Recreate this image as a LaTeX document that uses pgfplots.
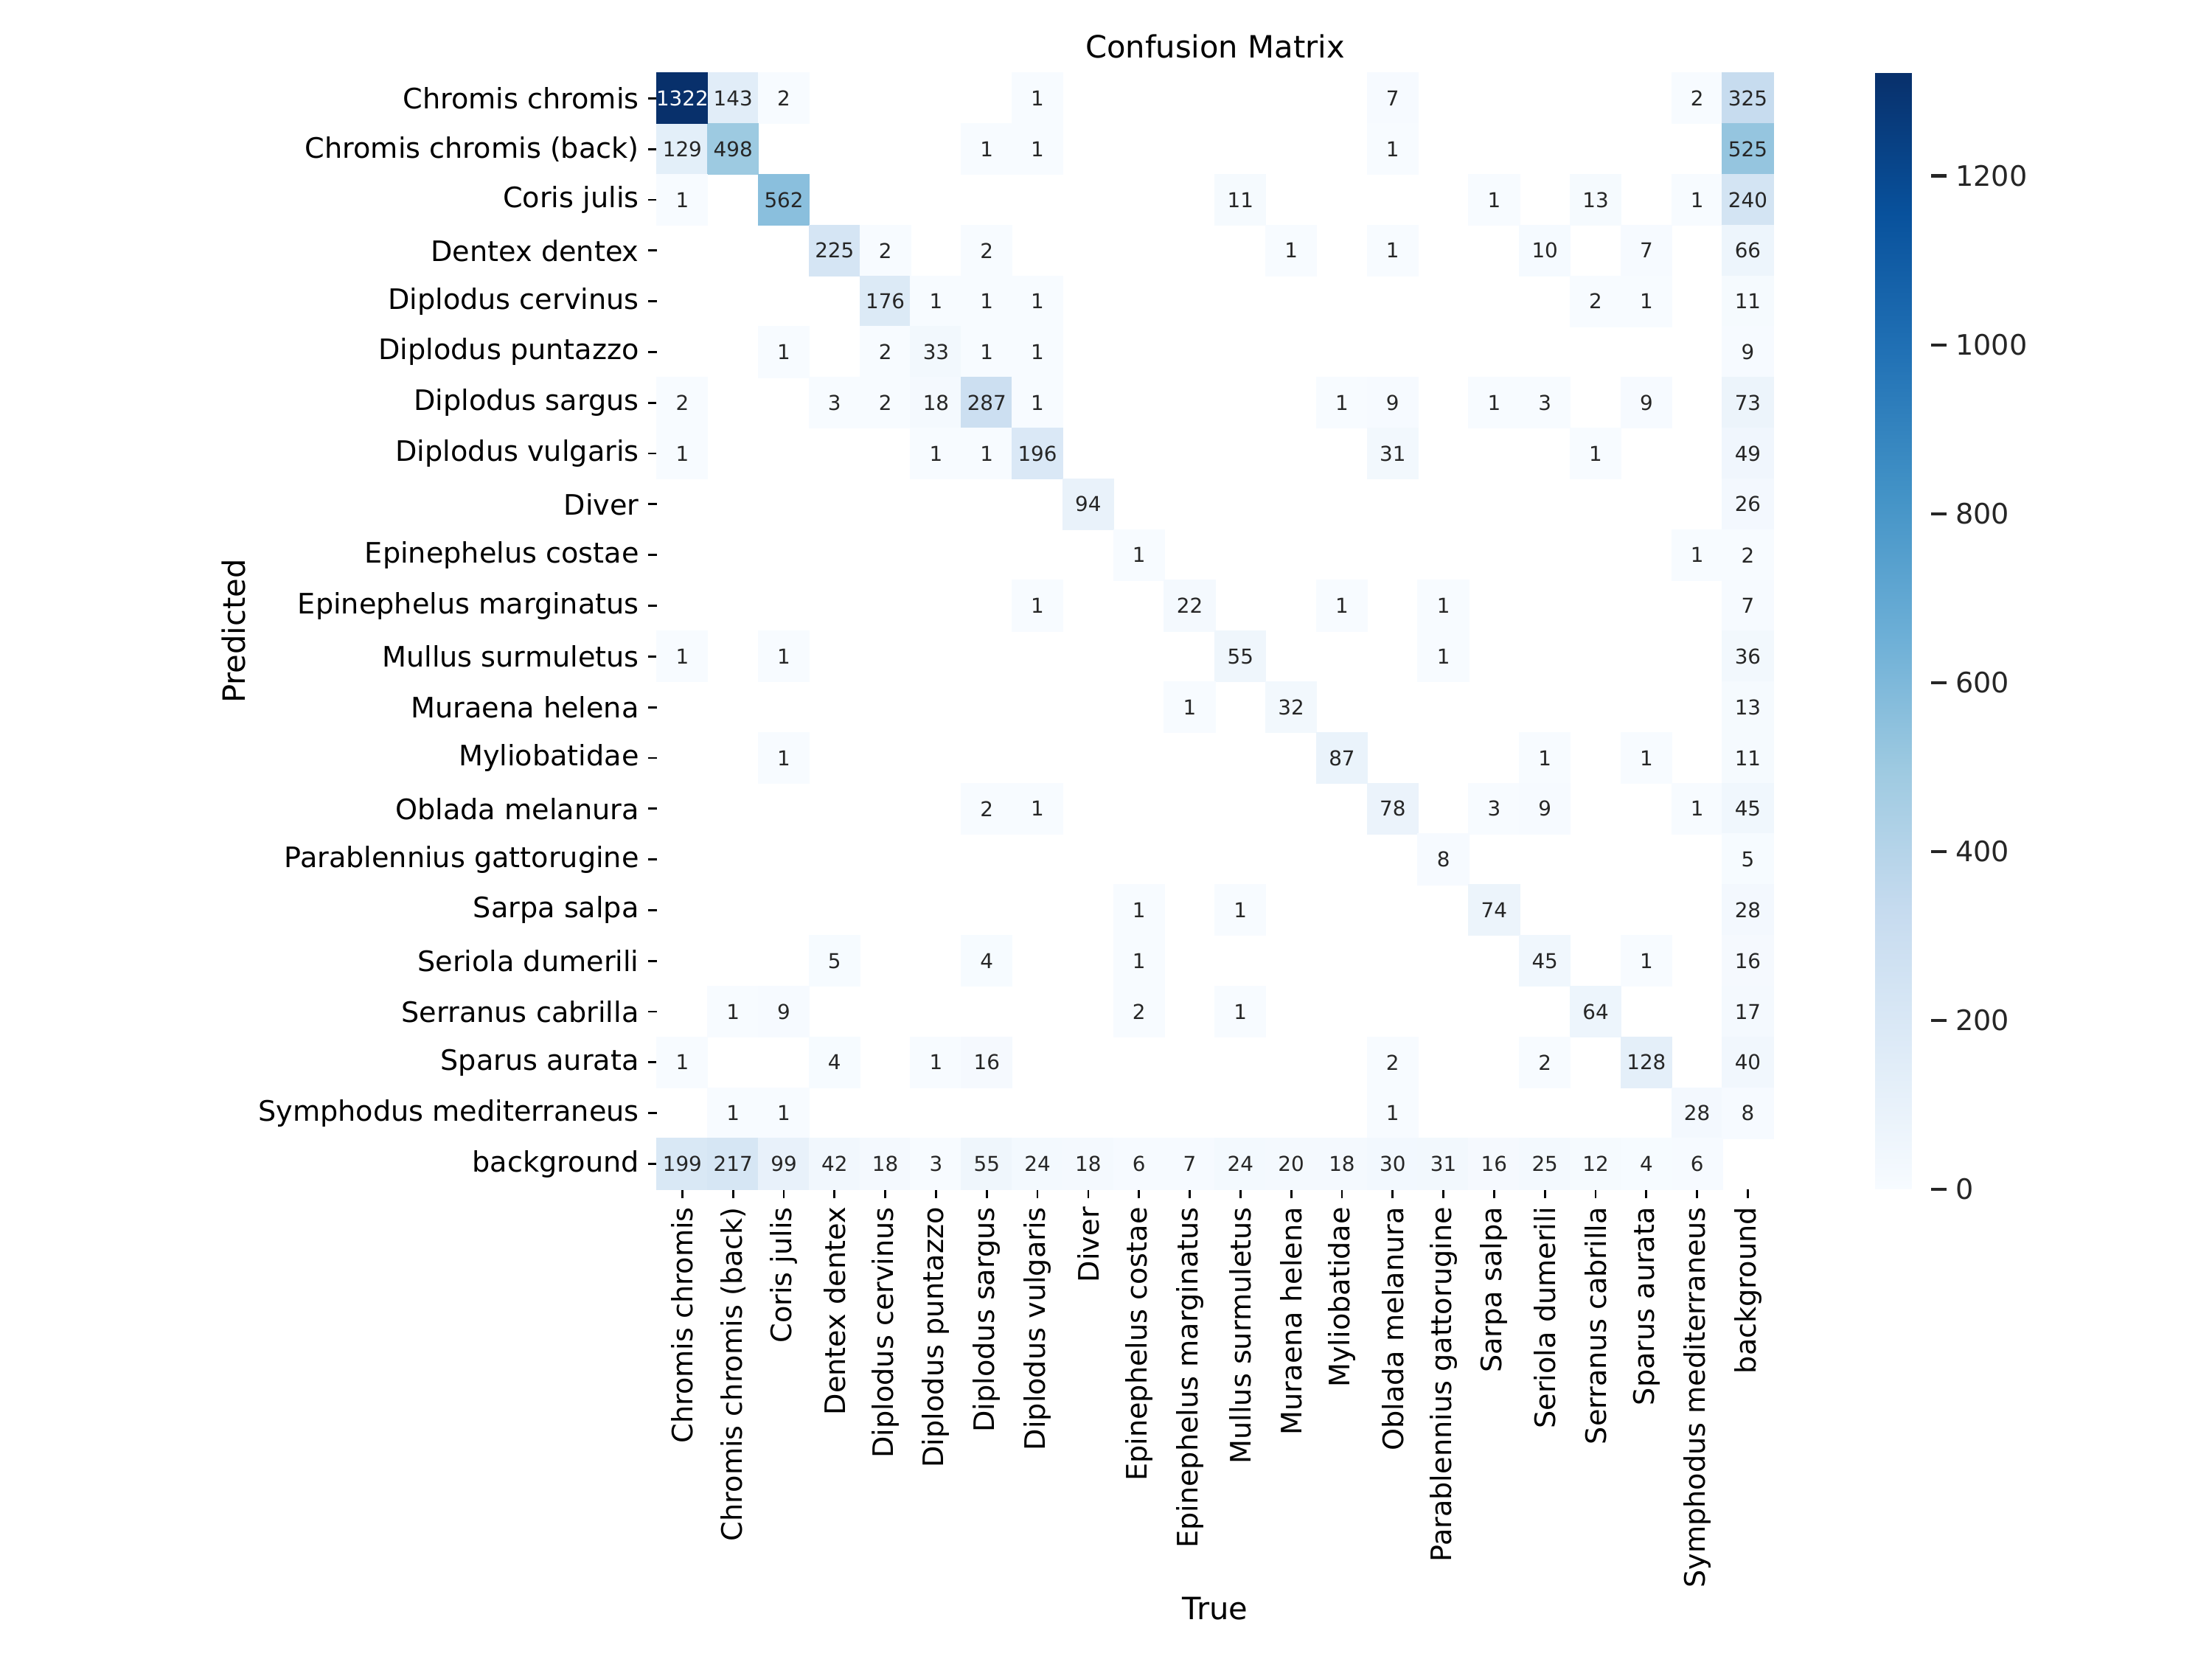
\documentclass[border=0pt]{standalone}
\usepackage{fontspec}
\setmainfont{DejaVu Sans}
\usepackage{pgfplots}
\usepackage{pgfplotstable}
\pgfplotsset{compat=1.18}

\definecolor{annot}{rgb}{0.15,0.15,0.15}

\pgfplotsset{
  colormap={blues}{rgb255=(247,251,255) rgb255=(222,235,247) rgb255=(198,219,239)
    rgb255=(158,202,225) rgb255=(107,174,214) rgb255=(66,146,198)
    rgb255=(33,113,181) rgb255=(8,81,156) rgb255=(8,48,107)},
  /pgf/number format/1000 sep={},
  /pgf/number format/assume math mode=true,
}

% counts, x = true class, y = predicted class (zero cells left blank)
\pgfplotstableread{
x y v
1 0 143
2 0 2
7 0 1
14 0 7
20 0 2
21 0 325
0 1 129
1 1 498
6 1 1
7 1 1
14 1 1
21 1 525
0 2 1
2 2 562
11 2 11
16 2 1
18 2 13
20 2 1
21 2 240
3 3 225
4 3 2
6 3 2
12 3 1
14 3 1
17 3 10
19 3 7
21 3 66
4 4 176
5 4 1
6 4 1
7 4 1
18 4 2
19 4 1
21 4 11
2 5 1
4 5 2
5 5 33
6 5 1
7 5 1
21 5 9
0 6 2
3 6 3
4 6 2
5 6 18
6 6 287
7 6 1
13 6 1
14 6 9
16 6 1
17 6 3
19 6 9
21 6 73
0 7 1
5 7 1
6 7 1
7 7 196
14 7 31
18 7 1
21 7 49
8 8 94
21 8 26
9 9 1
20 9 1
21 9 2
7 10 1
10 10 22
13 10 1
15 10 1
21 10 7
0 11 1
2 11 1
11 11 55
15 11 1
21 11 36
10 12 1
12 12 32
21 12 13
2 13 1
13 13 87
17 13 1
19 13 1
21 13 11
6 14 2
7 14 1
14 14 78
16 14 3
17 14 9
20 14 1
21 14 45
15 15 8
21 15 5
9 16 1
11 16 1
16 16 74
21 16 28
3 17 5
6 17 4
9 17 1
17 17 45
19 17 1
21 17 16
1 18 1
2 18 9
9 18 2
11 18 1
18 18 64
21 18 17
0 19 1
3 19 4
5 19 1
6 19 16
14 19 2
17 19 2
19 19 128
21 19 40
1 20 1
2 20 1
14 20 1
20 20 28
21 20 8
0 21 199
1 21 217
2 21 99
3 21 42
4 21 18
5 21 3
6 21 55
7 21 24
8 21 18
9 21 6
10 21 7
11 21 24
12 21 20
13 21 18
14 21 30
15 21 31
16 21 16
17 21 25
18 21 12
19 21 4
20 21 6
}\cells

% the one dark cell, labelled in white
\pgfplotstableread{
x y v
0 0 1322
}\darkcell

\begin{document}
\begin{tikzpicture}
\path[use as bounding box] (0,0) rectangle (864bp,648bp);
\begin{axis}[
  at={(256.6bp,183.5bp)}, anchor=south west,
  scale only axis, width=436bp, height=436bp,
  xmin=-0.5, xmax=21.5, ymin=-0.5, ymax=21.5,
  y dir=reverse,
  enlargelimits=false,
  axis line style={draw=none},
  xtick={0,...,21}, ytick={0,...,21},
  xticklabels={Chromis chromis, Chromis chromis (back), Coris julis, Dentex dentex,
    Diplodus cervinus, Diplodus puntazzo, Diplodus sargus, Diplodus vulgaris, Diver,
    Epinephelus costae, Epinephelus marginatus, Mullus surmuletus, Muraena helena,
    Myliobatidae, Oblada melanura, Parablennius gattorugine, Sarpa salpa,
    Seriola dumerili, Serranus cabrilla, Sparus aurata, Symphodus mediterraneus, background},
  yticklabels={Chromis chromis, Chromis chromis (back), Coris julis, Dentex dentex,
    Diplodus cervinus, Diplodus puntazzo, Diplodus sargus, Diplodus vulgaris, Diver,
    Epinephelus costae, Epinephelus marginatus, Mullus surmuletus, Muraena helena,
    Myliobatidae, Oblada melanura, Parablennius gattorugine, Sarpa salpa,
    Seriola dumerili, Serranus cabrilla, Sparus aurata, Symphodus mediterraneus, background},
  tick align=outside,
  xtick pos=bottom, ytick pos=left,
  major tick length=3.5bp,
  tick style={black, line width=0.8bp},
  ticklabel style={font=\fontsize{11bp}{13bp}\selectfont},
  xticklabel style={rotate=90, anchor=east},
  title={Confusion Matrix},
  title style={font=\fontsize{12bp}{14bp}\selectfont, at={(axis description cs:0.5,1)}, anchor=base, yshift=0bp},
  xlabel={True},
  xlabel style={font=\fontsize{12bp}{14bp}\selectfont, at={(axis description cs:0.5,-0.3855)}, anchor=base},
  ylabel={Predicted},
  ylabel style={font=\fontsize{12bp}{14bp}\selectfont, at={(axis description cs:-0.379,0.5)}, anchor=center},
  colormap name=blues,
  point meta min=0, point meta max=1322,
  colorbar,
  colorbar shift/.style={xshift=39.8bp},
  colorbar style={
    at={(parent axis.north east)}, anchor=north west,
    scale only axis, width=21.9bp, height=436bp,
    ytick={0,200,400,600,800,1000,1200},
    axis line style={draw=none},
    tick align=outside, ytick pos=right, yticklabel pos=right,
    major tick length=6bp,
    ytick style={draw=black!85, line width=1.25bp},
    yticklabel style={font=\fontsize{11bp}{13bp}\selectfont, text=black!85},
  },
]

% coloured cells
\addplot[scatter, only marks, mark=square*, mark size=9.91bp,
  scatter/use mapped color={draw=mapped color, fill=mapped color},
  point meta=explicit]
table[x=x, y=y, meta=v] {\cells};
\addplot[scatter, only marks, mark=square*, mark size=9.91bp,
  scatter/use mapped color={draw=mapped color, fill=mapped color},
  point meta=explicit]
table[x=x, y=y, meta=v] {\darkcell};

% cell counts
\addplot[only marks, mark=*, mark size=0pt, mark options={draw=none, fill=none},
  point meta=explicit,
  nodes near coords,
  every node near coord/.append style={anchor=center, inner sep=0pt,
    font=\fontsize{8bp}{9bp}\selectfont, text=annot}]
table[x=x, y=y, meta=v] {\cells};
\addplot[only marks, mark=*, mark size=0pt, mark options={draw=none, fill=none},
  point meta=explicit,
  nodes near coords,
  every node near coord/.append style={anchor=center, inner sep=0pt,
    font=\fontsize{8bp}{9bp}\selectfont, text=white}]
table[x=x, y=y, meta=v] {\darkcell};
\end{axis}
\end{tikzpicture}
\end{document}
